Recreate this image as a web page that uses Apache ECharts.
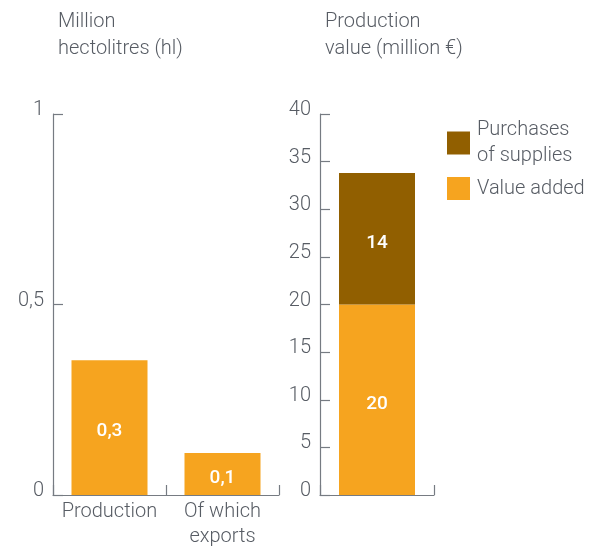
<!DOCTYPE html>
<html>
<head>
<meta charset="utf-8">
<script src="https://cdn.jsdelivr.net/npm/echarts@6/dist/echarts.min.js"></script>
<style>html,body{margin:0;padding:0;background:#fff}#c{width:615px;height:547px}</style>
</head>
<body>
<div id="c"></div>
<script>
const volumeCategories = ['Production', 'Of which\nexports'];
const volumeValues = [0.354, 0.11];
const volumeLabels = ['0,3', '0,1'];
const volumeTicks = [0, 0.5, 1];

const valueCategories = ['Total'];
const valueAdded = [20];
const purchases = [13.8];
const valueAddedLabels = ['20'];
const purchasesLabels = ['14'];
const valueTicks = [0, 5, 10, 15, 20, 25, 30, 35, 40];

const leftTitle = 'Million\nhectolitres (hl)';
const rightTitle = 'Production\nvalue (million €)';

const ORANGE = '#F6A41F';
const BROWN = '#915F00';
const TEXT = '#575c64';
const AXIS = '#767b82';
const FONT = 'Roboto';
const FS = 20;

const chart = echarts.init(document.getElementById('c'));
const yAxisCommon = {
  type: 'value',
  axisLine: {show: true, lineStyle: {color: AXIS, width: 1.2}},
  axisTick: {show: true, inside: true, length: 10, lineStyle: {color: AXIS, width: 1.2}},
  splitLine: {show: false},
  axisLabel: {color: TEXT, fontFamily: FONT, fontWeight: 300, fontSize: FS, margin: 9,
    verticalAlign: 'bottom', lineHeight: 8,
    formatter: v => String(v).replace('.', ',')}
};
const xAxisCommon = {
  type: 'category',
  axisLine: {show: true, lineStyle: {color: AXIS, width: 1.2}},
  axisTick: {show: true, inside: true, length: 10, alignWithLabel: false, lineStyle: {color: AXIS, width: 1.2}},
  axisLabel: {color: TEXT, fontFamily: FONT, fontWeight: 300, fontSize: FS, margin: 4, lineHeight: 25, interval: 0}
};
const barLabel = (labels) => ({
  show: true, position: 'inside', color: '#fff', fontFamily: FONT, fontWeight: 500, fontSize: 19,
  offset: [0, 4],
  formatter: p => labels[p.dataIndex]
});

chart.setOption({
  animation: false,
  title: [
    {text: leftTitle, left: 53, top: 3, textStyle: {color: TEXT, fontFamily: FONT, fontWeight: 300, fontSize: FS, lineHeight: 27}},
    {text: rightTitle, left: 320, top: 3, textStyle: {color: TEXT, fontFamily: FONT, fontWeight: 300, fontSize: FS, lineHeight: 27}}
  ],
  legend: [
    {data: ['Purchases of supplies'], left: 447, top: 114, padding: 0, itemWidth: 23, itemHeight: 23, itemGap: 0,
     icon: 'rect', formatter: () => 'Purchases\nof supplies', selectedMode: false,
     textStyle: {color: TEXT, fontFamily: FONT, fontWeight: 300, fontSize: FS, lineHeight: 26, padding: [6, 0, 0, 2]}},
    {data: ['Value added'], left: 447, top: 177, padding: 0, itemWidth: 23, itemHeight: 23, icon: 'rect', selectedMode: false,
     textStyle: {color: TEXT, fontFamily: FONT, fontWeight: 300, fontSize: FS, padding: [0, 0, 0, 2]}}
  ],
  grid: [
    {left: 53, top: 114, width: 226, height: 381, outerBoundsMode: 'none', containLabel: false},
    {left: 320, top: 114, width: 114, height: 381, outerBoundsMode: 'none', containLabel: false}
  ],
  xAxis: [
    Object.assign({gridIndex: 0, data: volumeCategories}, xAxisCommon),
    Object.assign({gridIndex: 1, data: valueCategories}, xAxisCommon, {axisLabel: {show: false}})
  ],
  yAxis: [
    Object.assign({gridIndex: 0, min: volumeTicks[0], max: volumeTicks[volumeTicks.length - 1], interval: volumeTicks[1] - volumeTicks[0]}, yAxisCommon),
    Object.assign({gridIndex: 1, min: valueTicks[0], max: valueTicks[valueTicks.length - 1], interval: valueTicks[1] - valueTicks[0]}, yAxisCommon)
  ],
  series: [
    {type: 'bar', name: 'Volume', xAxisIndex: 0, yAxisIndex: 0, data: volumeValues, barWidth: 76,
     itemStyle: {color: ORANGE}, label: barLabel(volumeLabels)},
    {type: 'bar', name: 'Value added', xAxisIndex: 1, yAxisIndex: 1, stack: 'v', data: valueAdded, barWidth: 76,
     itemStyle: {color: ORANGE}, label: barLabel(valueAddedLabels)},
    {type: 'bar', name: 'Purchases of supplies', xAxisIndex: 1, yAxisIndex: 1, stack: 'v', data: purchases, barWidth: 76,
     itemStyle: {color: BROWN}, label: barLabel(purchasesLabels)}
  ]
});
</script>
</body>
</html>
